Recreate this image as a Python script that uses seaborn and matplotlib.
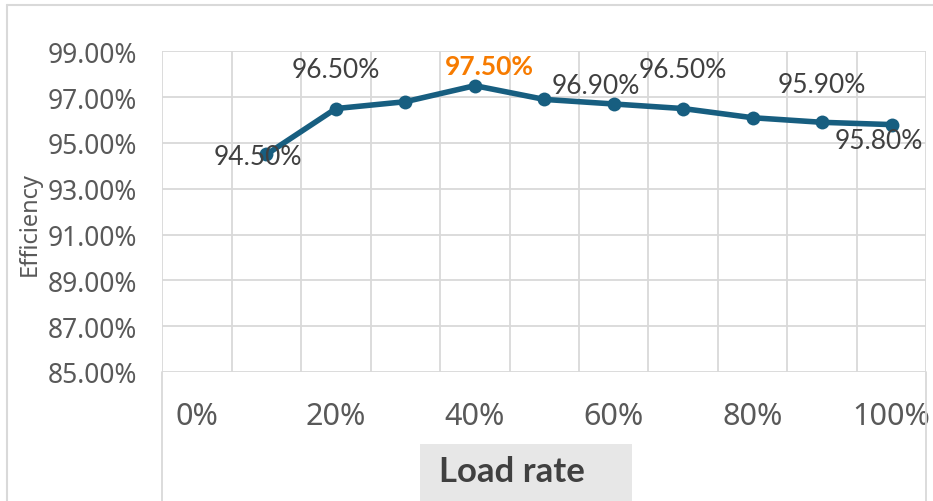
import matplotlib
matplotlib.use("Agg")
import matplotlib.pyplot as plt
import seaborn as sns
import numpy as np
from matplotlib.lines import Line2D
from matplotlib.patches import Rectangle

# ---- data ----
load_rate = [10, 20, 30, 40, 50, 60, 70, 80, 90, 100]
efficiency = [94.5, 96.5, 96.8, 97.5, 96.9, 96.7, 96.5, 96.1, 95.9, 95.8]
x_ticks = [0, 20, 40, 60, 80, 100]
x_tick_labels = ["0%", "20%", "40%", "60%", "80%", "100%"]
y_ticks = [85, 87, 89, 91, 93, 95, 97, 99]
y_tick_labels = ["85.00%", "87.00%", "89.00%", "91.00%", "93.00%", "95.00%", "97.00%", "99.00%"]
labeled_points = [0, 1, 3, 4, 6, 8, 9]
x_title = "Load rate"
y_title = "Efficiency"

# label offsets in pixels (dx, dy) for each labeled point
label_offsets = {0: (-9, -2), 1: (0, 39), 3: (15, 20), 4: (52, 14), 6: (0, 39), 8: (0, 38), 9: (-13, -16)}
highlight = 3

sns.set_theme(style="white")
plt.rcParams['font.family'] = ['Lato', 'DejaVu Sans']

W, H = 933, 502
fig = plt.figure(figsize=(W / 100, H / 100), dpi=100)
fig.patch.set_facecolor("white")

left, right, top, bottom = 162.3, 926.3, 52.3, 373.0
ax = fig.add_axes([left / W, 1 - bottom / H, (right - left) / W, (bottom - top) / H])

line_color = "#175E80"
grid_color = "#D9D9D9"
text_color = "#595959"
label_color = "#404040"

sns.lineplot(x=load_rate, y=efficiency, ax=ax, color=line_color, linewidth=4.0,
             marker="o", markersize=10, markeredgewidth=0, zorder=5)

ax.set_xlim(-5, 105)
ax.set_ylim(85, 99)
ax.set_xticks(x_ticks)
ax.set_xticklabels(x_tick_labels)
ax.set_xticks(np.arange(-5, 106, 10), minor=True)
ax.set_yticks(y_ticks)
ax.set_yticklabels(y_tick_labels)

ax.grid(False)
ax.xaxis.grid(True, which="minor", color=grid_color, linewidth=1.3)
ax.yaxis.grid(True, which="major", color=grid_color, linewidth=1.3)
for s in ax.spines.values():
    s.set_visible(False)

ax.tick_params(axis="x", which="both", length=0, pad=21, labelsize=22, labelcolor=text_color)
ax.tick_params(axis="y", which="both", length=0, pad=18, labelsize=19, labelcolor=text_color)
for t in ax.get_xticklabels() + ax.get_yticklabels():
    t.set_family(["Noto Sans", "DejaVu Sans"])

# data labels
for i in labeled_points:
    dx, dy = label_offsets[i]
    is_hi = (i == highlight)
    ax.annotate(f"{efficiency[i]:.2f}%", (load_rate[i], efficiency[i]),
                xytext=(dx, dy), textcoords="offset pixels",
                ha="center", va="center", fontsize=19,
                color="#F77B00" if is_hi else label_color,
                fontweight="bold" if is_hi else "normal",
                family=["Lato", "DejaVu Sans"], zorder=6)

# y title
fig.text(30 / W, 1 - 224 / H, y_title, rotation=90, ha="center", va="center",
         fontsize=17, color=text_color, family=["Noto Sans", "DejaVu Sans"])

# x title with gray box
fig.patches.append(Rectangle((420 / W, 0), (632 - 420) / W, (502 - 445) / H,
                             transform=fig.transFigure, facecolor="#E7E7E7",
                             edgecolor="none", zorder=0))
fig.text(512 / W, 1 - 472 / H, x_title, ha="center", va="center",
         fontsize=25, color="#404040", fontweight="bold",
         family=["Lato", "DejaVu Sans"])

# extension lines below plot and outer chart border
for xp in (left, right):
    fig.lines.append(Line2D([xp / W, xp / W], [0, 1 - bottom / H], transform=fig.transFigure,
                            color=grid_color, linewidth=1.3))
fig.lines.append(Line2D([6.5 / W, 1.0], [1 - 6 / H, 1 - 6 / H], transform=fig.transFigure,
                        color=grid_color, linewidth=1.5))
fig.lines.append(Line2D([6.5 / W, 6.5 / W], [0, 1 - 6 / H], transform=fig.transFigure,
                        color=grid_color, linewidth=1.5))

fig.savefig("out.png", dpi=100)
